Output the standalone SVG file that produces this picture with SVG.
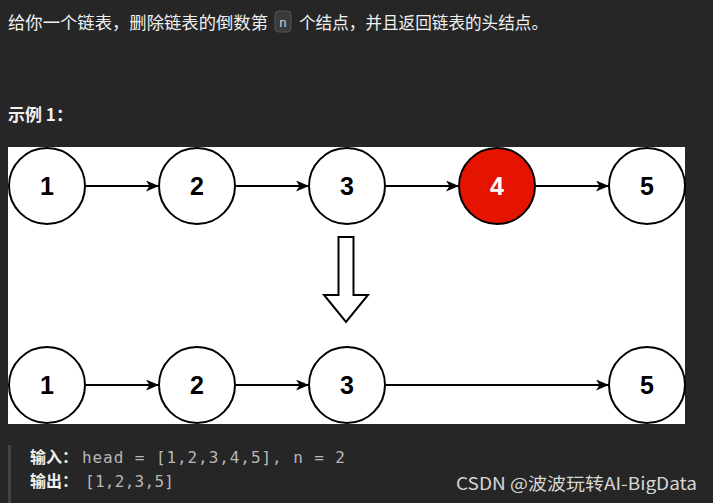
<svg xmlns="http://www.w3.org/2000/svg" width="713" height="503" viewBox="0 0 713 503">
<style>
.cjk{font-family:"Noto Sans CJK SC","Noto Sans",sans-serif;fill:#f0f0f0}
.node circle{fill:#ffffff;stroke:#000000;stroke-width:2}
.node text{font-family:"Liberation Sans",Arial,sans-serif;font-weight:bold;font-size:25px;text-anchor:middle;fill:#000}
.red circle{fill:#e51400}
.red text{fill:#ffffff}
.edge{stroke:#000;stroke-width:2;fill:none;marker-end:url(#ah)}
.mono{font-family:"DejaVu Sans Mono","Liberation Mono",monospace;font-size:16px;fill:#b8b8b8}
</style>
<defs>
<marker id="ah" viewBox="0 0 13 11" refX="13" refY="5.5" markerWidth="13" markerHeight="11" markerUnits="userSpaceOnUse" orient="auto">
<path d="M0,0 L13,5.5 L0,11 L3.5,5.5 Z" fill="#000"/>
</marker>
</defs>
<rect width="713" height="503" fill="#262626"/>
<text class="cjk" x="8" y="29" font-size="17" textLength="260" lengthAdjust="spacingAndGlyphs">给你一个链表，删除链表的倒数第</text>
<rect x="275" y="11" width="16" height="21" rx="4" fill="#3a3a3a" stroke="#555"/>
<text x="283" y="27" font-family="DejaVu Sans Mono,monospace" font-size="13" fill="#cfcfcf" text-anchor="middle">n</text>
<text class="cjk" x="299" y="29" font-size="17" textLength="249" lengthAdjust="spacingAndGlyphs">个结点，并且返回链表的头结点。</text>
<text class="cjk" x="8" y="121" font-size="17" font-weight="bold">示例 1：</text>
<rect x="8" y="147" width="677" height="277" fill="#ffffff"/>
<g id="connectors">
<line class="edge" x1="86" y1="186" x2="159" y2="186"/>
<line class="edge" x1="236" y1="186" x2="309" y2="186"/>
<line class="edge" x1="386" y1="186" x2="459" y2="186"/>
<line class="edge" x1="536" y1="186" x2="609" y2="186"/>
<line class="edge" x1="86" y1="385" x2="159" y2="385"/>
<line class="edge" x1="236" y1="385" x2="309" y2="385"/>
<line class="edge" x1="386" y1="385" x2="609" y2="385"/>
</g>
<g id="n1" class="node"><circle cx="47" cy="186" r="38"/><text x="47" y="195">1</text></g>
<g id="n2" class="node"><circle cx="197" cy="186" r="38"/><text x="197" y="195">2</text></g>
<g id="n3" class="node"><circle cx="347" cy="186" r="38"/><text x="347" y="195">3</text></g>
<g id="n4" class="node red"><circle cx="497" cy="186" r="38"/><text x="497" y="195">4</text></g>
<g id="n5" class="node"><circle cx="647" cy="186" r="38"/><text x="647" y="195">5</text></g>
<g id="downarrow"><polygon points="338.5,237 353.5,237 353.5,295 368,295 346,322 324,295 338.5,295" fill="#fff" stroke="#000" stroke-width="2"/></g>
<g id="m1" class="node"><circle cx="47" cy="385" r="38"/><text x="47" y="394">1</text></g>
<g id="m2" class="node"><circle cx="197" cy="385" r="38"/><text x="197" y="394">2</text></g>
<g id="m3" class="node"><circle cx="347" cy="385" r="38"/><text x="347" y="394">3</text></g>
<g id="m5" class="node"><circle cx="647" cy="385" r="38"/><text x="647" y="394">5</text></g>
<rect x="0" y="424" width="713" height="79" fill="#262626"/>
<rect x="8" y="445" width="3" height="58" fill="#444"/>
<text class="cjk" x="30" y="463" font-size="16" font-weight="bold">输入：</text>
<text class="mono" x="82" y="463" textLength="263">head = [1,2,3,4,5], n = 2</text>
<text class="cjk" x="30" y="487" font-size="16" font-weight="bold">输出：</text>
<text class="mono" x="85" y="487" textLength="89">[1,2,3,5]</text>
<text x="456" y="490" font-family="'Noto Sans CJK SC','Noto Sans',sans-serif" font-size="17" fill="#d6d6d6" textLength="241" lengthAdjust="spacingAndGlyphs">CSDN @波波玩转AI-BigData</text>
</svg>
